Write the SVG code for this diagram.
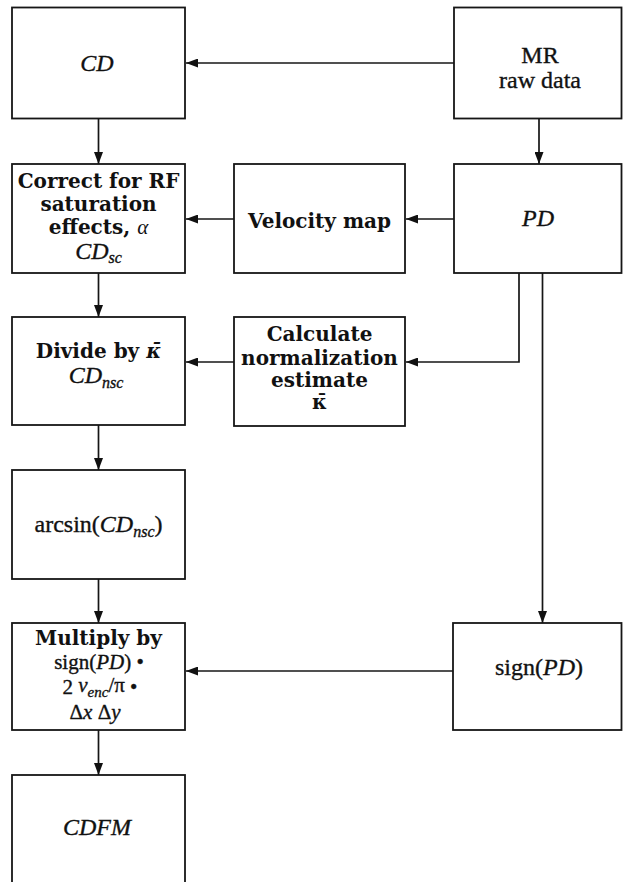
<svg xmlns="http://www.w3.org/2000/svg" width="623" height="882" viewBox="0 0 623 882">
<defs>
<marker id="ah" markerUnits="userSpaceOnUse" markerWidth="13" markerHeight="9" refX="12" refY="4.5" orient="auto">
<path d="M0,0 L12,4.5 L0,9 z" fill="#111"/>
</marker>
<style>
.box{fill:#fff;stroke:#161616;stroke-width:1.8}
.c{fill:none;stroke:#161616;stroke-width:1.7;marker-end:url(#ah)}
.t{font-family:"Liberation Serif","Times New Roman",serif;font-size:24px;fill:#111;stroke:#111;stroke-width:0.35;text-anchor:middle}
.b{font-family:"DejaVu Serif",serif;font-weight:bold;font-size:20px;fill:#111;text-anchor:middle}
.i{font-style:italic}
.s{font-size:21px}
</style>
</defs>
<rect width="623" height="882" fill="#fff"/>
<g id="connectors">
<line class="c" x1="454" y1="63" x2="186" y2="63"/>
<line class="c" x1="98.5" y1="118.5" x2="98.5" y2="164"/>
<line class="c" x1="539" y1="118.5" x2="539" y2="164"/>
<line class="c" x1="454" y1="219" x2="406" y2="219"/>
<line class="c" x1="234" y1="219" x2="186" y2="219"/>
<line class="c" x1="98.5" y1="273" x2="98.5" y2="317"/>
<polyline class="c" points="519,273 519,362 406,362"/>
<line class="c" x1="234" y1="362" x2="186" y2="362"/>
<line class="c" x1="542.5" y1="273" x2="542.5" y2="623"/>
<line class="c" x1="98.5" y1="425" x2="98.5" y2="470"/>
<line class="c" x1="98.5" y1="579" x2="98.5" y2="623"/>
<line class="c" x1="453" y1="671" x2="186" y2="671"/>
<line class="c" x1="98.5" y1="730" x2="98.5" y2="775"/>
</g>
<g id="n-cd">
<rect class="box" x="12" y="7.5" width="173" height="111"/>
<text class="t i" x="97" y="71">CD</text>
</g>
<g id="n-mr">
<rect class="box" x="454" y="7.5" width="167.5" height="111"/>
<text class="t" x="540" y="63">MR</text>
<text class="t" x="540" y="88">raw data</text>
</g>
<g id="n-correct">
<rect class="box" x="12" y="164" width="173" height="109"/>
<text class="b" x="98.5" y="188">Correct for RF</text>
<text class="b" x="98.5" y="211">saturation</text>
<text class="b" x="98.5" y="234">effects, <tspan font-family="Liberation Serif, serif" font-style="italic" font-weight="normal" font-size="21">α</tspan></text>
<text class="t" x="98.5" y="259"><tspan class="i">CD</tspan><tspan class="i" font-size="16" dy="4">sc</tspan></text>
</g>
<g id="n-velocity">
<rect class="box" x="234" y="164" width="171" height="109"/>
<text class="b" x="319.5" y="228">Velocity map</text>
</g>
<g id="n-pd">
<rect class="box" x="454" y="164" width="167.5" height="109"/>
<text class="t i" x="538" y="226">PD</text>
</g>
<g id="n-divide">
<rect class="box" x="12" y="317" width="173" height="108"/>
<text class="b" x="98.5" y="358">Divide by <tspan font-style="italic">κ̄</tspan></text>
<text class="t" x="96" y="383"><tspan class="i">CD</tspan><tspan class="i" font-size="16" dy="5">nsc</tspan></text>
</g>
<g id="n-calc">
<rect class="box" x="234" y="317" width="171" height="109"/>
<text class="b" x="319.5" y="341">Calculate</text>
<text class="b" x="319.5" y="365">normalization</text>
<text class="b" x="319.5" y="387">estimate</text>
<text class="b" x="319.5" y="409" font-size="18">κ̄</text>
</g>
<g id="n-arcsin">
<rect class="box" x="12" y="470" width="173" height="109"/>
<text class="t" x="98.5" y="532">arcsin(<tspan class="i">CD</tspan><tspan class="i" font-size="16" dy="5">nsc</tspan><tspan dy="-5">)</tspan></text>
</g>
<g id="n-multiply">
<rect class="box" x="12" y="623" width="173" height="107"/>
<text class="b" x="98.5" y="645">Multiply by</text>
<text class="t s" x="99" y="669">sign(<tspan class="i">PD</tspan>) •</text>
<text class="t s" x="100" y="694">2 <tspan class="i" dy="-2">v</tspan><tspan class="i" font-size="15" dy="5">enc</tspan><tspan dy="-5">/π</tspan><tspan dy="2"> •</tspan></text>
<text class="t s" x="95" y="719">Δ<tspan class="i">x</tspan> Δ<tspan class="i">y</tspan></text>
</g>
<g id="n-sign">
<rect class="box" x="453" y="623" width="168.5" height="107"/>
<text class="t" x="539" y="675">sign(<tspan class="i">PD</tspan>)</text>
</g>
<g id="n-cdfm">
<rect class="box" x="12" y="775" width="173" height="120"/>
<text class="t i" x="97" y="835">CDFM</text>
</g>
</svg>
